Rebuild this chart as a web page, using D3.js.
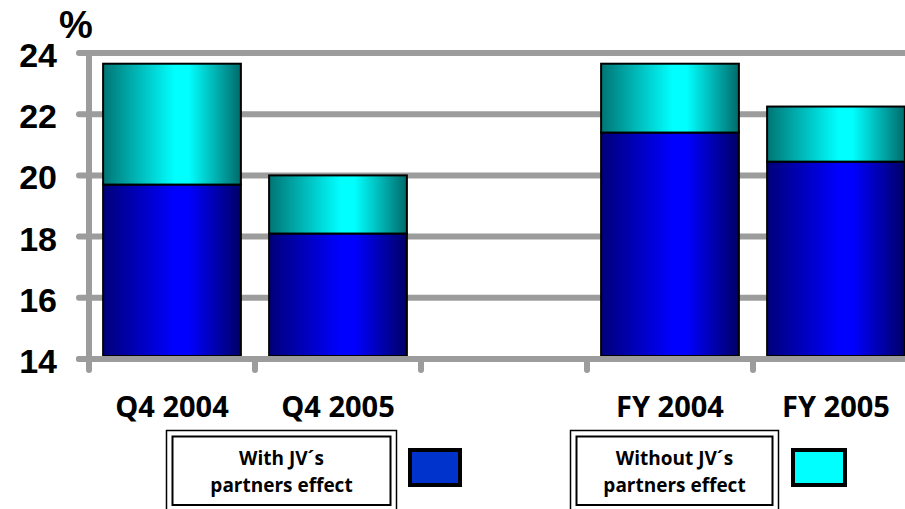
<!DOCTYPE html>
<html>
<head>
<meta charset="utf-8">
<script src="https://cdn.jsdelivr.net/npm/d3@7"></script>
<style>
  html, body { margin: 0; padding: 0; background: #fff; overflow: hidden; }
  svg { display: block; }
</style>
</head>
<body>
<svg id="chart" width="905" height="509"></svg>
<script>
// ---- data ----
const categories = ["Q4 2004", "Q4 2005", "", "FY 2004", "FY 2005"];
const withJV = [19.7, 18.1, null, 21.4, 20.45];      // With JV's partners effect
const withoutJV = [23.65, 20.0, null, 23.65, 22.25]; // Without JV's partners effect (total)
const yTicks = [14, 16, 18, 20, 22, 24];
const legendLabels = [["With JV´s", "partners effect"], ["Without JV´s", "partners effect"]];
const legendColors = ["#0033CC", "#00FFFF"];

const svg = d3.select("#chart");
const defs = svg.append("defs");

function grad(id, edgeL, center, edgeR) {
  const g = defs.append("linearGradient").attr("id", id)
    .attr("x1", "0%").attr("x2", "100%").attr("y1", "0%").attr("y2", "0%");
  g.append("stop").attr("offset", "0%").attr("stop-color", edgeL);
  g.append("stop").attr("offset", "52%").attr("stop-color", center);
  g.append("stop").attr("offset", "62%").attr("stop-color", center);
  g.append("stop").attr("offset", "100%").attr("stop-color", edgeR);
}
grad("gBlue", "#00007a", "#0000ff", "#000066");
grad("gCyan", "#007575", "#00ffff", "#006a6a");

const x = d3.scaleBand().domain(categories.map((c, i) => i)).range([89, 919])
  .paddingInner(0.17).paddingOuter(0.085);
const y = d3.scaleLinear().domain([14, 24]).range([359, 53]);

const gray = "#9c9c9c";

// gridlines
svg.append("g").selectAll("line").data(yTicks).join("line")
  .attr("x1", 79).attr("x2", 930)
  .attr("y1", d => y(d)).attr("y2", d => y(d))
  .attr("stroke", gray).attr("stroke-width", 6).attr("stroke-linecap", "round");

// y axis vertical line
svg.append("line").attr("x1", 89).attr("x2", 89).attr("y1", y(24)).attr("y2", 370)
  .attr("stroke", gray).attr("stroke-width", 6).attr("stroke-linecap", "round");

// x ticks
const tickXs = d3.range(categories.length + 1).map(i => 89 + i * x.step());
svg.append("g").selectAll("line").data(tickXs.slice(1)).join("line")
  .attr("x1", d => d).attr("x2", d => d).attr("y1", y(14)).attr("y2", 370)
  .attr("stroke", gray).attr("stroke-width", 6).attr("stroke-linecap", "round");

// bars
const idx = categories.map((c, i) => i).filter(i => withJV[i] != null);
const bars = svg.append("g");
bars.selectAll("rect.lo").data(idx).join("rect").attr("class", "lo")
  .attr("x", i => x(i)).attr("width", x.bandwidth())
  .attr("y", i => y(withJV[i])).attr("height", i => y(14) - y(withJV[i]) - 3)
  .attr("fill", "url(#gBlue)").attr("stroke", "#000").attr("stroke-width", 2);
bars.selectAll("rect.hi").data(idx).join("rect").attr("class", "hi")
  .attr("x", i => x(i)).attr("width", x.bandwidth())
  .attr("y", i => y(withoutJV[i])).attr("height", i => y(withJV[i]) - y(withoutJV[i]))
  .attr("fill", "url(#gCyan)").attr("stroke", "#000").attr("stroke-width", 2);

// redraw baseline over bar bottoms
svg.append("line").attr("x1", 79).attr("x2", 930).attr("y1", y(14)).attr("y2", y(14))
  .attr("stroke", gray).attr("stroke-width", 6).attr("stroke-linecap", "round");

// y labels
svg.append("g").selectAll("text").data(yTicks).join("text")
  .attr("x", 57).attr("y", d => y(d) + 14)
  .attr("text-anchor", "end")
  .attr("font-family", "'Liberation Sans', Arial, sans-serif")
  .attr("font-weight", "bold").attr("font-size", 34)
  .text(d => d);

svg.append("text").attr("x", 59).attr("y", 38)
  .attr("font-family", "'Liberation Sans', Arial, sans-serif")
  .attr("font-weight", "bold").attr("font-size", 38).text("%");

// x labels
svg.append("g").selectAll("text").data(categories.map((c, i) => i)).join("text")
  .attr("x", i => x(i) + x.bandwidth() / 2).attr("y", 417)
  .attr("text-anchor", "middle")
  .attr("font-family", "'Open Sans', sans-serif")
  .attr("font-weight", "bold").attr("font-size", 29)
  .text(i => categories[i]);

// legend
const legendBoxes = [
  { x0: 166.5, x1: 396.5, sx: 410, sw: 50 },
  { x0: 570.5, x1: 778.5, sx: 793, sw: 52 }
];
legendBoxes.forEach((b, k) => {
  const g = svg.append("g");
  g.append("rect").attr("x", b.x0).attr("y", 430.5).attr("width", b.x1 - b.x0).attr("height", 90)
    .attr("fill", "none").attr("stroke", "#000").attr("stroke-width", 1.5);
  g.append("rect").attr("x", b.x0 + 6).attr("y", 436.5).attr("width", b.x1 - b.x0 - 12).attr("height", 68.5)
    .attr("fill", "#fff").attr("stroke", "#000").attr("stroke-width", 2);
  const cx = (b.x0 + b.x1) / 2;
  legendLabels[k].forEach((t, j) => {
    g.append("text").attr("x", cx).attr("y", 465 + j * 26.5)
      .attr("text-anchor", "middle")
      .attr("font-family", "'Open Sans', sans-serif")
      .attr("font-weight", "bold").attr("font-size", 19)
      .text(t);
  });
  g.append("rect").attr("x", b.sx).attr("y", 450).attr("width", b.sw).attr("height", 35)
    .attr("fill", legendColors[k]).attr("stroke", "#000").attr("stroke-width", 4);
});
</script>
</body>
</html>
